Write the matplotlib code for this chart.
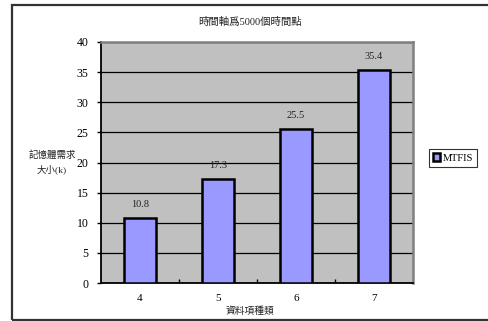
import matplotlib
matplotlib.use("Agg")
import matplotlib.pyplot as plt
from matplotlib.patches import Rectangle

plt.rcParams['font.family'] = ['Liberation Serif', 'Noto Sans CJK TC', 'DejaVu Sans']

categories = ['4', '5', '6', '7']
values = [10.8, 17.3, 25.5, 35.4]
series_name = 'MTFIS'
title = '時間軸爲5000個時間點'
xlabel = '資料項種類'
ylabel = '記憶體需求\n大小(k)'

fig = plt.figure(figsize=(4.88, 3.21), dpi=100)
fig.patch.set_facecolor('white')

# outer chart frame
fig.patches.append(Rectangle((12/488, 1/321), 1.2, 315/321, transform=fig.transFigure,
                             fill=False, edgecolor='#333333', linewidth=1.6))

ax = fig.add_axes([101/488, 1 - 283/321, 312/488, 241/321])
ax.set_facecolor('#c0c0c0')

x = list(range(len(categories)))
ax.bar(x, values, width=0.41, color='#9999ff', edgecolor='black', linewidth=1.8,
       zorder=3, label=series_name)
for xi, v in zip(x, values):
    ax.text(xi, v + 1.5, f'{v:g}', ha='center', va='bottom', fontsize=7.5, color='#222222')

ax.set_xlim(-0.5, len(categories) - 0.5)
ax.set_ylim(0, 40)
ax.set_yticks(range(0, 41, 5))
ax.yaxis.grid(True, color='black', linewidth=0.9, zorder=1)
ax.set_axisbelow(True)
ax.set_xticks(x)
ax.set_xticklabels(categories)
ax.set_xticks([i + 0.5 for i in x[:-1]], minor=True)
ax.tick_params(axis='x', which='major', length=0, labelsize=8, pad=8)
ax.tick_params(axis='x', which='minor', direction='in', length=3, width=1, color='black')
ax.tick_params(axis='y', direction='out', length=3, width=1, labelsize=8.5, pad=6)

for side in ('top', 'right'):
    ax.spines[side].set_color('#808080')
    ax.spines[side].set_linewidth(1.8)
for side in ('left', 'bottom'):
    ax.spines[side].set_color('black')
    ax.spines[side].set_linewidth(1.3)

fig.text(250/488, 1 - 22/321, title, ha='center', va='center', fontsize=7.5, color='#222222')
fig.text(250/488, 1 - 311/321, xlabel, ha='center', va='center', fontsize=7, color='#222222')
fig.text(52/488, 1 - 162/321, ylabel, ha='center', va='center', fontsize=6.8,
         color='#222222', linespacing=1.6)

handle = Rectangle((0, 0), 1, 1, facecolor='#9999ff', edgecolor='black', linewidth=1.8)
leg = fig.legend([handle], [series_name], loc='center', bbox_to_anchor=(453/488, 1 - 158/321),
                 fontsize=7.5, frameon=True, fancybox=False, handlelength=0.7, handleheight=0.7,
                 handletextpad=0.2, borderpad=0.4, borderaxespad=0)
leg.get_frame().set_edgecolor('black')
leg.get_frame().set_linewidth(0.8)

fig.savefig('out.png', dpi=100)
